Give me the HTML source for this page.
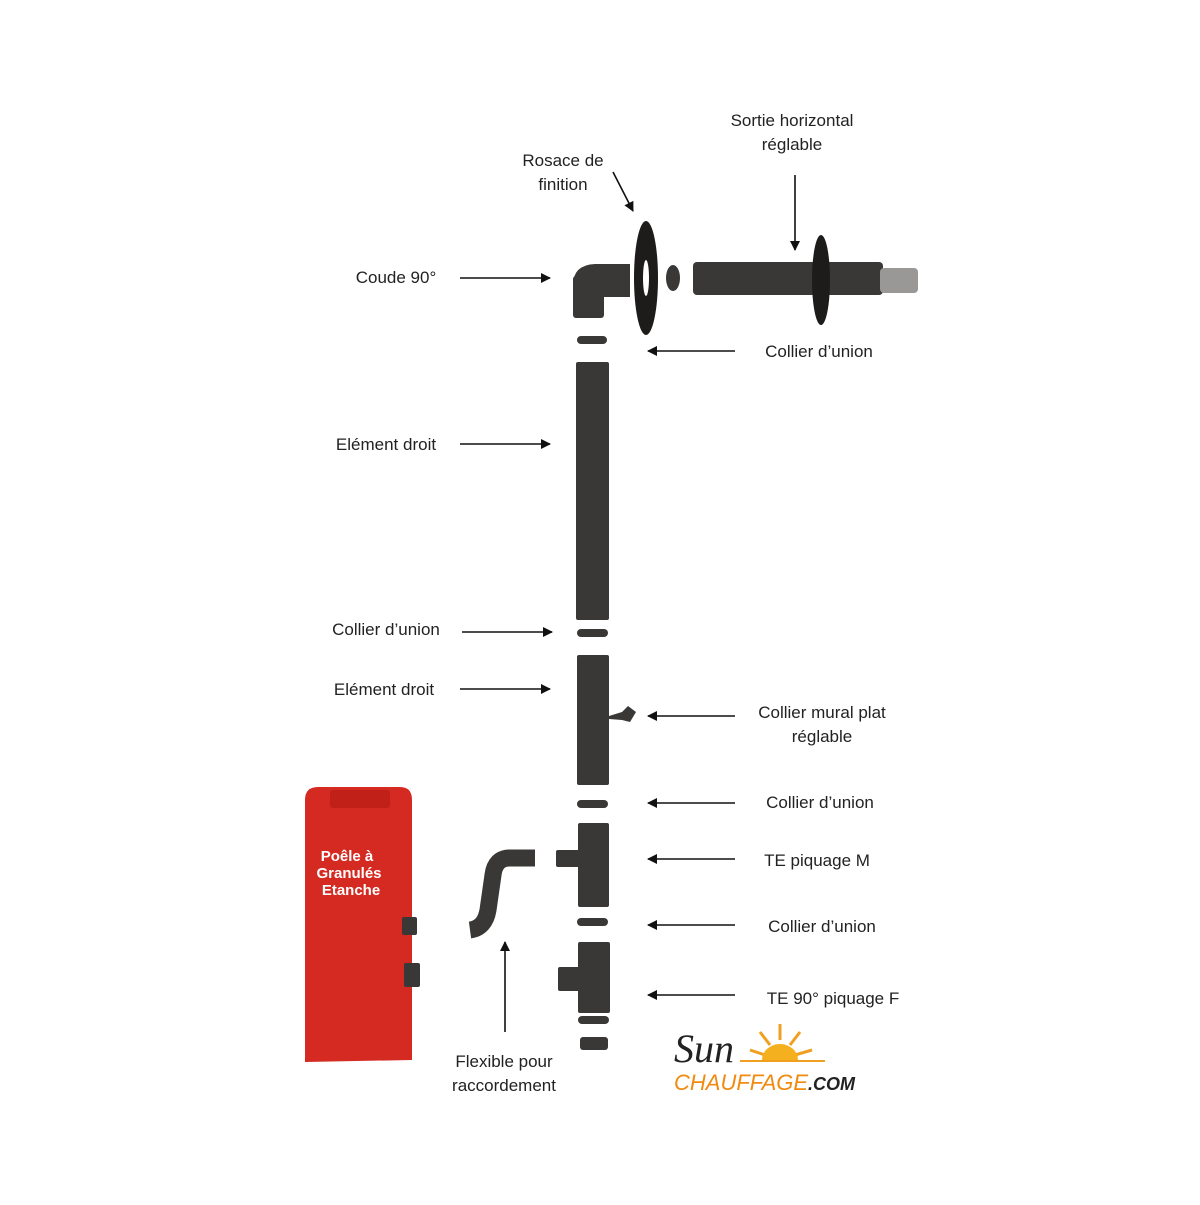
<!DOCTYPE html>
<html><head><meta charset="utf-8"><style>
body{margin:0;background:#fff}
svg text{font-family:"Liberation Sans",sans-serif;font-size:17px;fill:#222}
</style></head><body>
<svg width="1200" height="1200" viewBox="0 0 1200 1200" xmlns="http://www.w3.org/2000/svg">
<defs>
<marker id="a" markerWidth="10" markerHeight="10" refX="9" refY="5" orient="auto" markerUnits="userSpaceOnUse"><path d="M0,0 L10,5 L0,10 z" fill="#111"/></marker>
</defs>
<!-- stove -->
<path d="M305,800 Q305,787 318,787 L400,787 Q412,787 412,800 L412,1060 L305,1062z" fill="#d42a22"/>
<rect x="330" y="790" width="60" height="18" rx="3" fill="#c02018"/>
<text x="347" y="861" text-anchor="middle" style="font-weight:bold;font-size:15px;fill:#fff">Poêle à</text>
<text x="349" y="878" text-anchor="middle" style="font-weight:bold;font-size:15px;fill:#fff">Granulés</text>
<text x="351" y="895" text-anchor="middle" style="font-weight:bold;font-size:15px;fill:#fff">Etanche</text>
<g fill="#3a3836">
<!-- coude -->
<rect x="573" y="276" width="31" height="42" rx="3"/>
<path d="M573,285 Q573,265 595,264 L630,264 L630,297 L604,297 L604,300 L573,300 z"/>
<!-- rosace -->
<ellipse cx="646" cy="278" rx="12" ry="57" fill="#1e1c1b"/>
<ellipse cx="646" cy="278" rx="3" ry="18" fill="#fff"/>
<ellipse cx="673" cy="278" rx="7" ry="13"/>
<!-- sortie -->
<rect x="693" y="262" width="190" height="33" rx="4"/>
<ellipse cx="821" cy="280" rx="9" ry="45" fill="#1e1c1b"/>
<rect x="880" y="268" width="38" height="25" rx="4" fill="#9a9896"/>
<!-- rings -->
<rect x="577" y="336" width="30" height="8" rx="4"/>
<rect x="576" y="362" width="33" height="258" rx="2"/>
<rect x="577" y="629" width="31" height="8" rx="4"/>
<rect x="577" y="655" width="32" height="130" rx="2"/>
<path d="M609,716 L622,712 L628,706 L636,712 L630,722 L622,720 L609,719z"/>
<rect x="577" y="800" width="31" height="8" rx="4"/>
<rect x="578" y="823" width="31" height="84" rx="2"/>
<rect x="556" y="850" width="24" height="17" rx="2"/>
<rect x="577" y="918" width="31" height="8" rx="4"/>
<rect x="578" y="942" width="32" height="71" rx="2"/>
<rect x="558" y="967" width="22" height="24" rx="2"/>
<rect x="578" y="1016" width="31" height="8" rx="4"/>
<rect x="580" y="1037" width="28" height="13" rx="3"/>
<!-- knobs -->
<rect x="402" y="917" width="15" height="18" rx="2"/>
<rect x="404" y="963" width="16" height="24" rx="2"/>
</g>
<path d="M535,858 L510,858 Q495,858 493,875 L488,910 Q485,928 470,930" fill="none" stroke="#3a3836" stroke-width="17"/>
<!-- arrows -->
<g stroke="#111" stroke-width="1.6" marker-end="url(#a)">
<line x1="460" y1="278" x2="550" y2="278"/>
<line x1="460" y1="444" x2="550" y2="444"/>
<line x1="462" y1="632" x2="552" y2="632"/>
<line x1="460" y1="689" x2="550" y2="689"/>
<line x1="735" y1="351" x2="648" y2="351"/>
<line x1="735" y1="716" x2="648" y2="716"/>
<line x1="735" y1="803" x2="648" y2="803"/>
<line x1="735" y1="859" x2="648" y2="859"/>
<line x1="735" y1="925" x2="648" y2="925"/>
<line x1="735" y1="995" x2="648" y2="995"/>
<line x1="795" y1="175" x2="795" y2="250"/>
<line x1="613" y1="172" x2="633" y2="211"/>
<line x1="505" y1="1032" x2="505" y2="942"/>
</g>
<text x="396" y="283" text-anchor="middle">Coude 90°</text>
<text x="386" y="450" text-anchor="middle">Elément droit</text>
<text x="386" y="635" text-anchor="middle">Collier d’union</text>
<text x="384" y="695" text-anchor="middle">Elément droit</text>
<text x="563" y="166" text-anchor="middle">Rosace de</text>
<text x="563" y="190" text-anchor="middle">finition</text>
<text x="792" y="126" text-anchor="middle">Sortie horizontal</text>
<text x="792" y="150" text-anchor="middle">réglable</text>
<text x="819" y="357" text-anchor="middle">Collier d’union</text>
<text x="822" y="718" text-anchor="middle">Collier mural plat</text>
<text x="822" y="742" text-anchor="middle">réglable</text>
<text x="820" y="808" text-anchor="middle">Collier d’union</text>
<text x="817" y="866" text-anchor="middle">TE piquage M</text>
<text x="822" y="932" text-anchor="middle">Collier d’union</text>
<text x="833" y="1004" text-anchor="middle">TE 90° piquage F</text>
<text x="504" y="1067" text-anchor="middle">Flexible pour</text>
<text x="504" y="1091" text-anchor="middle">raccordement</text>
<!-- logo -->
<text x="674" y="1062" style="font-family:'Liberation Serif',serif;font-style:italic;font-size:40px;fill:#222">Sun</text>
<g stroke="#f0a020" stroke-width="3">
<line x1="780" y1="1040" x2="780" y2="1024"/><line x1="770" y1="1045" x2="760" y2="1032"/><line x1="790" y1="1045" x2="800" y2="1032"/><line x1="765" y1="1055" x2="750" y2="1050"/><line x1="795" y1="1055" x2="812" y2="1050"/>
</g>
<path d="M762,1060 A18,16 0 0 1 798,1060 z" fill="#f5b020"/>
<line x1="740" y1="1061" x2="825" y2="1061" stroke="#f0a020" stroke-width="2"/>
<text x="674" y="1090" style="font-style:italic;font-size:22px;fill:#f08a10">CHAUFFAGE<tspan style="fill:#222;font-size:18px;font-weight:bold">.COM</tspan></text>
</svg>
</body></html>
